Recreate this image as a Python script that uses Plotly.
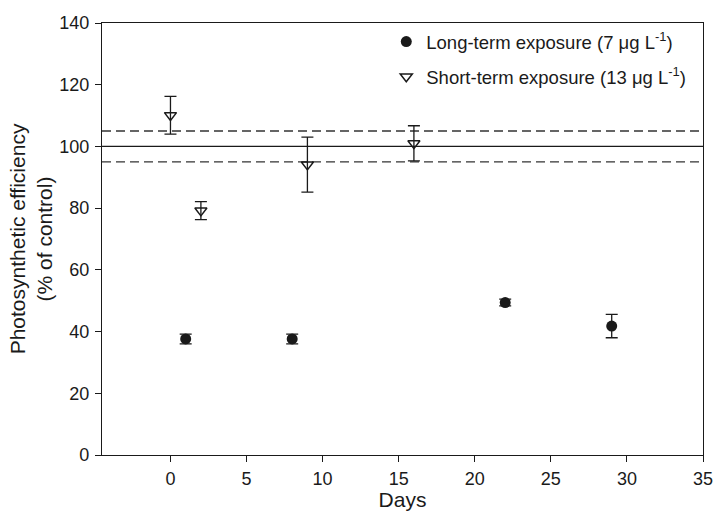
import plotly.graph_objects as go

# Long-term exposure (7 µg/L)
long_days = [1, 8, 22, 29]
long_eff = [37.6, 37.6, 49.4, 41.8]
long_err = [1.6, 1.6, 1.1, 3.8]

# Short-term exposure (13 µg/L)
short_days = [0, 2, 9, 16]
short_eff = [110.1, 79.2, 94.1, 101.0]
short_err = [6.1, 2.9, 8.9, 5.7]

# Control level and its +/- 5 % band
control_level = 100
band_levels = [95, 105]

x_ticks = [0, 5, 10, 15, 20, 25, 30, 35]
y_ticks = [0, 20, 40, 60, 80, 100, 120, 140]

ink = "#1a1a1a"
font_family = "Liberation Sans, Arial, sans-serif"

fig = go.Figure()

fig.add_trace(go.Scatter(
    x=long_days, y=long_eff, mode="markers",
    name="Long-term exposure (7 \u03bcg L<sup>-1</sup>)",
    legendgroup="long",
    marker=dict(symbol="circle", size=11, color=ink),
    error_y=dict(type="data", array=long_err, visible=True,
                 color=ink, thickness=1.3, width=6),
))

fig.add_trace(go.Scatter(
    x=short_days, y=short_eff, mode="markers",
    name="Short-term exposure (13 \u03bcg L<sup>-1</sup>)",
    legendgroup="short",
    marker=dict(symbol="triangle-down-open", size=10.5, color=ink,
                line=dict(width=1.5, color=ink)),
    error_y=dict(type="data", array=short_err, visible=True,
                 color=ink, thickness=1.3, width=6),
))

fig.add_shape(type="line", xref="paper", x0=0, x1=1, yref="y",
              y0=control_level, y1=control_level,
              line=dict(color=ink, width=1.3), layer="below")
for lvl in band_levels:
    fig.add_shape(type="line", xref="paper", x0=0, x1=1, yref="y",
                  y0=lvl, y1=lvl,
                  line=dict(color="#333333", width=1.3, dash="9px,5px"),
                  layer="below")

axis_common = dict(
    showline=True, linecolor=ink, linewidth=1.3, mirror=True,
    ticks="outside", ticklen=6, tickwidth=1.3, tickcolor=ink,
    showgrid=False, zeroline=False,
    tickfont=dict(size=18, color=ink, family=font_family),
)

fig.update_xaxes(
    range=[-4.5, 35], tickvals=x_ticks, ticklabelstandoff=1,
    title=dict(text="Days", font=dict(size=21, color=ink, family=font_family),
               standoff=7),
    **axis_common,
)
fig.update_yaxes(
    range=[0, 140], tickvals=y_ticks, ticklabelstandoff=2,
    title=dict(text="Photosynthetic efficiency<br>(% of control)",
               font=dict(size=21, color=ink, family=font_family),
               standoff=0),
    **axis_common,
)

fig.update_layout(
    width=715, height=511,
    margin=dict(l=102, r=12, t=23, b=56, autoexpand=False),
    paper_bgcolor="white", plot_bgcolor="white",
    font=dict(family=font_family, color=ink),
    showlegend=True,
    legend=dict(
        x=0.473, y=1.0, xanchor="left", yanchor="top",
        bgcolor="rgba(0,0,0,0)", borderwidth=0,
        font=dict(size=18.5, color=ink, family=font_family),
        tracegroupgap=8,
        itemwidth=30,
    ),
)

fig.write_html("out.html")
